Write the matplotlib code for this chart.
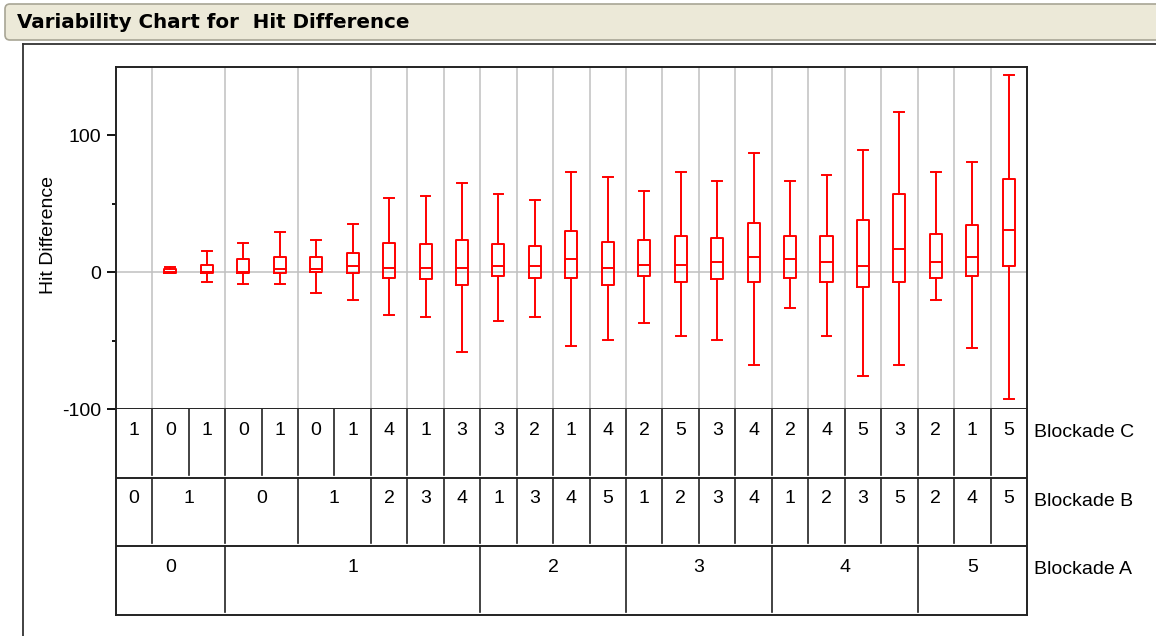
import matplotlib
matplotlib.use("Agg")
import matplotlib.pyplot as plt
from matplotlib.lines import Line2D
from matplotlib.patches import FancyBboxPatch
from matplotlib.transforms import IdentityTransform
from matplotlib.ticker import FixedLocator

plt.rcParams['font.family'] = ['Liberation Sans', 'DejaVu Sans']
plt.rcParams['axes.unicode_minus'] = False

# factor levels, one entry per column
blockade_a = [0, 0, 0, 1, 1, 1, 1, 1, 1, 1, 2, 2, 2, 2, 3, 3, 3, 3, 4, 4, 4, 4, 5, 5, 5]
blockade_b = [0, 1, 1, 0, 0, 1, 1, 2, 3, 4, 1, 3, 4, 5, 1, 2, 3, 4, 1, 2, 3, 5, 2, 4, 5]
blockade_c = [1, 0, 1, 0, 1, 0, 1, 4, 1, 3, 3, 2, 1, 4, 2, 5, 3, 4, 2, 4, 5, 3, 2, 1, 5]

# box statistics (None = no box drawn)
whisker_lo = [None, -0.5, -7, -8.5, -8.5, -15.3, -20.4, -31.6, -33, -58.1, -36, -33, -53.7,
              -49.9, -37.2, -46.9, -49.9, -67.6, -26, -46.9, -76.1, -67.6, -20.4, -55.2, -92.9]
quart_1 = [None, -0.5, -0.5, -0.5, -0.5, 0, -0.5, -4.1, -5.3, -9.7, -2.9, -4.1, -4.1,
           -9.7, -2.9, -6.8, -5.3, -6.8, -4.1, -6.8, -10.9, -6.8, -4.1, -2.9, 4.2]
medians = [None, 0, 0, 0, 2, 2, 4.4, 2.9, 2.9, 2.9, 4.4, 4.4, 9.8,
           2.9, 5.6, 5.6, 7.3, 11.2, 9.8, 7.3, 4.4, 16.8, 7.3, 11.2, 30.7]
quart_3 = [None, 2.5, 5.5, 10, 11, 11, 14.4, 21.2, 20.7, 23.6, 20.7, 19.3, 30.4,
           22.2, 23.6, 26.1, 24.8, 35.8, 26.1, 26.1, 38.5, 56.9, 28, 34.6, 67.9]
whisker_hi = [None, 4, 15.5, 21, 29.5, 23.6, 35, 54.3, 56, 65.5, 57.2, 52.8, 73.5,
              69.6, 59.6, 73.5, 66.4, 87.4, 66.4, 70.8, 89.3, 117, 73.5, 80.3, 144.5]

W, H = 1156, 636
n = len(blockade_c)


def fx(px):
    return px / W


def fy(py):
    return 1 - py / H


def runs(keys):
    "start, end and key of each run of equal keys"
    out = []
    start = 0
    for i in range(1, len(keys) + 1):
        if i == len(keys) or keys[i] != keys[start]:
            out.append((start, i, keys[start]))
            start = i
    return out


fig = plt.figure(figsize=(W / 100, H / 100), dpi=100)
fig.patch.set_facecolor('white')

# title bar and report frame
bar = FancyBboxPatch((5, H - 40), 1170, 36, boxstyle="round,pad=0,rounding_size=5",
                     transform=IdentityTransform(), facecolor='#ECE9D8',
                     edgecolor='#A8A595', linewidth=1.2)
fig.add_artist(bar)
fig.text(fx(17), fy(22), "Variability Chart for  Hit Difference", family='DejaVu Sans',
         fontweight='bold', fontsize=14.3, va='center', ha='left')
fig.add_artist(Line2D([fx(22.5), fx(22.5)], [fy(43.5), 0], color='#333333', lw=1.3))
fig.add_artist(Line2D([fx(22.5), 1], [fy(43.5), fy(43.5)], color='#333333', lw=1.3))

left, right = 115.7, 1027
ax = fig.add_axes([fx(left), fy(409), (right - left) / W, (409 - 67) / H])
ax.set_xlim(0, n)
ax.set_ylim(-100, 150)

b_groups = runs(list(zip(blockade_a, blockade_b)))
for start, end, key in b_groups[:-1]:
    ax.axvline(end, color='#C0C0C0', lw=1.1, zorder=1)
ax.axhline(0, color='#C0C0C0', lw=1.1, zorder=1)

stats = []
positions = []
for i in range(n):
    if medians[i] is None:
        continue
    stats.append({'whislo': whisker_lo[i], 'q1': quart_1[i], 'med': medians[i],
                  'q3': quart_3[i], 'whishi': whisker_hi[i], 'fliers': []})
    positions.append(i + 0.5)

red = dict(color='#FF0000', linewidth=1.4)
ax.bxp(stats, positions=positions, widths=0.33, capwidths=0.27, showfliers=False,
       boxprops=red, whiskerprops=red, capprops=red, medianprops=red, manage_ticks=False,
       zorder=3)

ax.set_xticks([])
ax.yaxis.set_major_locator(FixedLocator([-100, 0, 100]))
ax.yaxis.set_minor_locator(FixedLocator([-50, 50]))
ax.tick_params(axis='y', which='major', length=6.5, width=1.3, pad=4, labelsize=14)
ax.tick_params(axis='y', which='minor', length=3, width=1.3)
for s in ax.spines.values():
    s.set_linewidth(1.4)
    s.set_color('#222222')
ax.set_ylabel('Hit Difference', fontsize=14, va='center')
ax.yaxis.set_label_coords(-0.074, 0.51)

# factor table under the plot
tab = fig.add_axes([fx(left), fy(615), (right - left) / W, (615 - 409) / H])
tab.set_xlim(0, n)
tab.set_ylim(0, 3)
tab.set_xticks([])
tab.set_yticks([])
tab.spines['top'].set_visible(False)
for s in ['left', 'right', 'bottom']:
    tab.spines[s].set_linewidth(1.4)
    tab.spines[s].set_color('#222222')
tab.axhline(1, color='#222222', lw=1.4)
tab.axhline(2, color='#222222', lw=1.4)

rows = [(runs(list(zip(blockade_a, blockade_b, blockade_c))), blockade_c, 3, 'Blockade C'),
        (b_groups, blockade_b, 2, 'Blockade B'),
        (runs(blockade_a), blockade_a, 1, 'Blockade A')]
for groups, levels, top, name in rows:
    for start, end, key in groups:
        if end < n:
            tab.plot([end, end], [top, top - 0.955], color='#222222', lw=1.2)
        tab.text((start + end) / 2, top - 0.375, str(levels[start]), ha='center',
                 va='baseline', fontsize=14)
    tab.text(n + 0.2, top - 0.41, name, ha='left', va='baseline', fontsize=14,
             clip_on=False)

fig.savefig('out.png', dpi=100)
